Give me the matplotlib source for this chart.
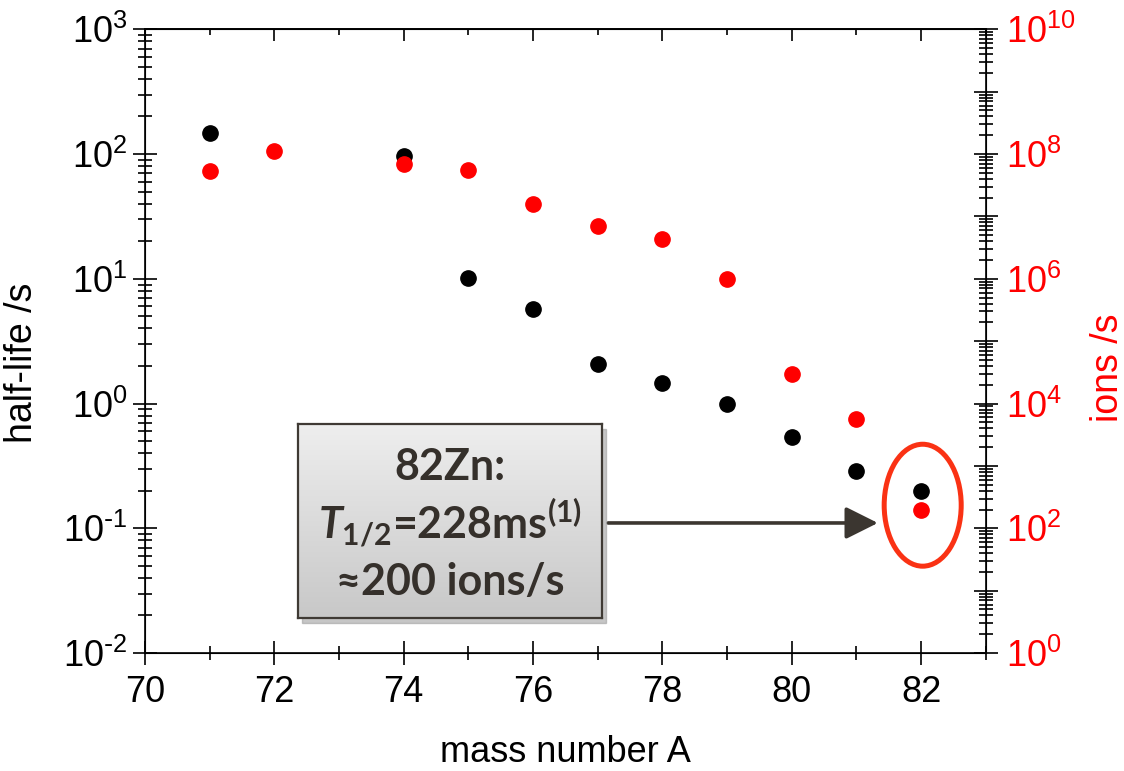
import numpy as np
import matplotlib
matplotlib.use("Agg")
import matplotlib.pyplot as plt
from matplotlib.ticker import MultipleLocator, FixedLocator, LogLocator, FuncFormatter, NullFormatter
from matplotlib.patches import Ellipse, Rectangle

plt.rcParams['font.family'] = ['Liberation Sans', 'DejaVu Sans']
plt.rcParams['mathtext.fontset'] = 'custom'
plt.rcParams['mathtext.it'] = 'Lato:italic:bold'

# half-life of Zn isotopes (black, left axis)
mass_hl = [71, 74, 75, 76, 77, 78, 79, 80, 81, 82]
half_life = [148, 97, 10.2, 5.7, 2.08, 1.46, 1.0, 0.54, 0.29, 0.20]

# ion yield (red, right axis)
mass_ions = [71, 72, 74, 75, 76, 77, 78, 79, 80, 81, 82]
ions = [5.3e7, 1.1e8, 6.9e7, 5.6e7, 1.6e7, 7.1e6, 4.3e6, 9.9e5, 3.0e4, 5.6e3, 200]

left_decades = [-2, -1, 0, 1, 2, 3]
right_decades = list(range(0, 11))


def dec_label(v, p, step=1):
    e = int(round(np.log10(v)))
    if e % step:
        return ''
    s = str(abs(e))
    if e < 0:
        s = r'\text{-}' + s
    return r'$\mathregular{10^{%s}}$' % s


fig = plt.figure(figsize=(11.24, 7.71), dpi=100)
ax = fig.add_axes([0.129, 0.153, 0.748, 0.809])

ax.plot(mass_hl, half_life, 'o', color='black', ms=11)
ax.set_yscale('log')
ax.set_ylim(1e-2, 1e3)
ax.set_xlim(70, 83)
ax.xaxis.set_major_locator(MultipleLocator(2))
ax.xaxis.set_minor_locator(MultipleLocator(1))
ax.yaxis.set_major_locator(FixedLocator([10.0 ** d for d in left_decades]))
ax.yaxis.set_minor_locator(LogLocator(base=10, subs=np.arange(2, 10), numticks=200))
ax.yaxis.set_minor_formatter(NullFormatter())
ax.yaxis.set_major_formatter(FuncFormatter(dec_label))
ax.tick_params(axis='both', which='major', direction='inout', length=17, width=1.2,
               labelsize=26, top=False, right=False)
ax.tick_params(axis='both', which='minor', direction='inout', length=9.5, width=1.2,
               top=False, right=False)
ax.tick_params(axis='x', which='major', pad=7)
ax.tick_params(axis='y', which='major', pad=4)
for s in ax.spines.values():
    s.set_linewidth(1.2)

ax.set_xlabel('mass number A', fontsize=26)
ax.xaxis.set_label_coords(0.5, -0.132)
ax.set_ylabel('half-life /s', fontsize=27)
ax.yaxis.set_label_coords(-0.125, 0.465)

# top ticks point inward only
sec = ax.secondary_xaxis('top')
sec.xaxis.set_major_locator(MultipleLocator(2))
sec.xaxis.set_minor_locator(MultipleLocator(1))
sec.tick_params(which='major', direction='in', length=8.5, width=1.2, labeltop=False)
sec.tick_params(which='minor', direction='in', length=4.5, width=1.2)
sec.spines['top'].set_linewidth(1.2)

ax2 = ax.twinx()
ax2.plot(mass_ions, ions, 'o', color='red', ms=11)
ax2.set_yscale('log')
ax2.set_ylim(1e0, 1e10)
ax2.yaxis.set_major_locator(FixedLocator([10.0 ** d for d in right_decades]))
ax2.yaxis.set_minor_locator(LogLocator(base=10, subs=np.arange(2, 10), numticks=200))
ax2.yaxis.set_minor_formatter(NullFormatter())
ax2.yaxis.set_major_formatter(FuncFormatter(lambda v, p: dec_label(v, p, 2)))
ax2.tick_params(axis='y', which='major', direction='inout', length=17, width=1.2,
                labelsize=26, labelcolor='red', pad=6)
ax2.tick_params(axis='y', which='minor', direction='inout', length=9.5, width=1.2)
ax2.set_ylabel('ions /s', fontsize=27, color='red')
ax2.yaxis.set_label_coords(1.124, 0.458)

# highlight 82Zn
ax2.add_patch(Ellipse((0.925, 0.237), 0.0916, 0.1955, transform=ax2.transAxes,
                      fill=False, ec='#fa3214', lw=3.6, zorder=5))
ax2.annotate('', xy=(0.781, 0.3217), xytext=(0.541, 0.3217),
             xycoords='figure fraction', textcoords='figure fraction',
             arrowprops=dict(arrowstyle='-|>,head_length=0.9,head_width=0.45',
                             color='#3b3630', lw=2.6, mutation_scale=22,
                             shrinkA=0, shrinkB=0))

# annotation box with gradient
bx = [0.265, 0.1984, 0.2705, 0.2516]
fig.add_artist(Rectangle((bx[0] + 0.004, bx[1] - 0.006), bx[2], bx[3],
                         transform=fig.transFigure, color='#a0a0a0', alpha=0.6,
                         zorder=4))
box = fig.add_axes(bx, zorder=5)
grad = np.linspace(0, 1, 256).reshape(-1, 1)
box.imshow(grad, cmap=matplotlib.colors.LinearSegmentedColormap.from_list(
    'g', ['#eeeeee', '#c8c8c8']), aspect='auto', extent=[0, 1, 0, 1])
box.set_xticks([])
box.set_yticks([])
for s in box.spines.values():
    s.set_color('#3f3a34')
    s.set_linewidth(1.6)

tc = '#35302b'
fkw = dict(ha='center', va='center', color=tc, fontsize=31, fontweight='bold',
           family=['Lato', 'DejaVu Sans'], transform=box.transAxes)
box.text(0.5, 0.778, '82Zn:', **fkw)
box.text(0.5, 0.49, r'$\mathit{T}_{\mathregular{1/2}}$=228ms$^{\mathregular{(1)}}$', **fkw)
box.text(0.5, 0.186, '≈200 ions/s', **fkw)

fig.savefig('out.png', dpi=100)
